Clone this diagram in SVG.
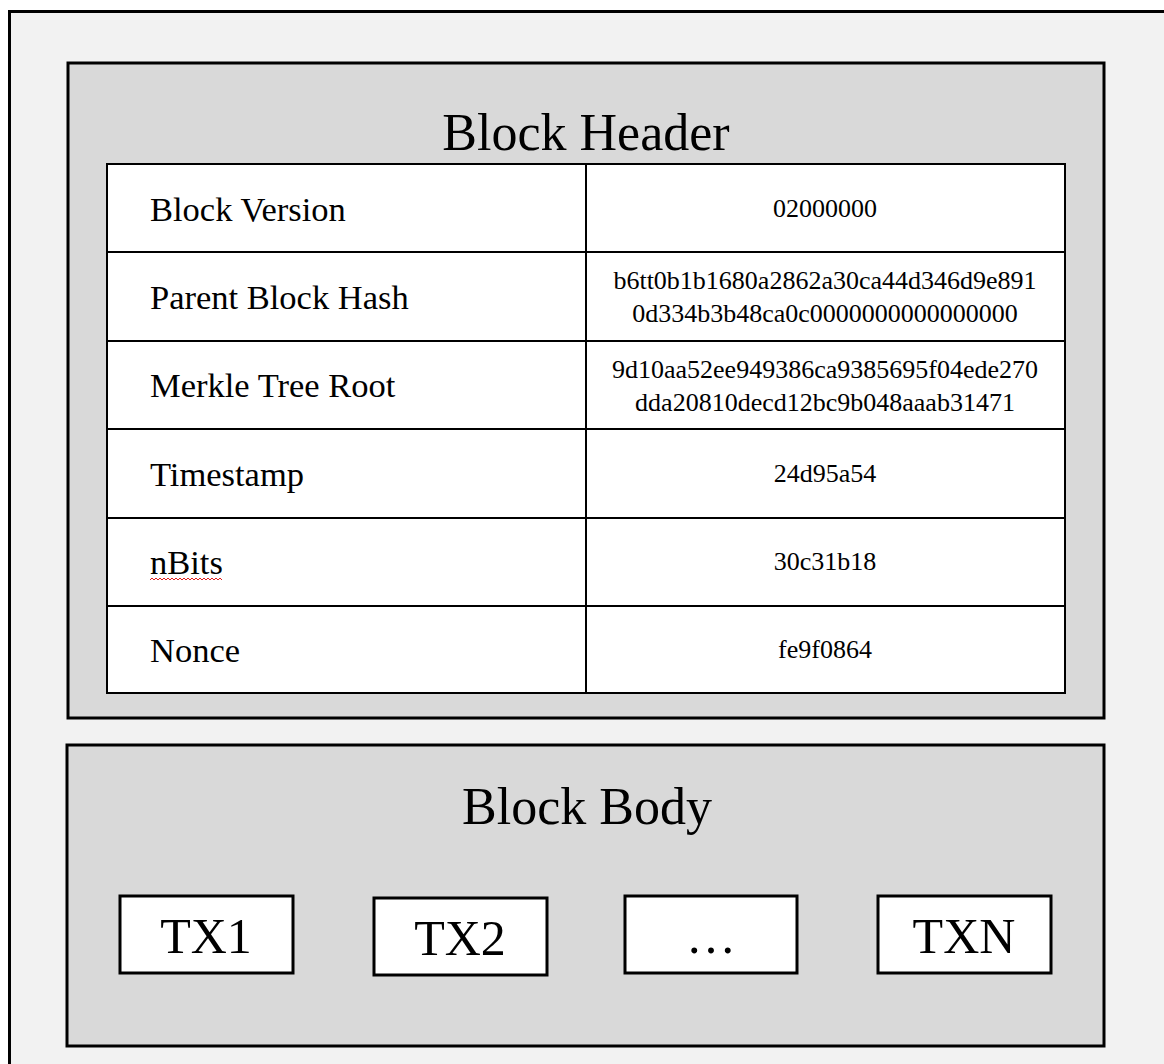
<svg xmlns="http://www.w3.org/2000/svg" width="1164" height="1064" viewBox="0 0 1164 1064">
<style>
  .frame { fill: #f2f2f2; stroke: #000; stroke-width: 3; }
  .panel { fill: #d9d9d9; stroke: #000; stroke-width: 3; }
  .cell { fill: #ffffff; stroke: #000; stroke-width: 2; }
  .grid { stroke: #000; stroke-width: 2; fill: none; }
  .tx { fill: #ffffff; stroke: #000; stroke-width: 3; }
  text { font-family: "Liberation Serif", "Times New Roman", serif; fill: #000; }
  .title { font-size: 52px; text-anchor: middle; }
  .label { font-size: 34.5px; }
  .value { font-size: 26px; text-anchor: middle; }
  .txt { font-size: 50px; text-anchor: middle; }
</style>
<rect width="1164" height="1064" fill="#ffffff"/>
<rect class="frame" x="9.5" y="11.5" width="1180" height="1080"/>

<g id="block-header">
  <rect class="panel" x="68" y="63" width="1036" height="655"/>
  <text class="title" x="586" y="150">Block Header</text>
</g>

<g id="header-table">
  <rect class="cell" x="107" y="164" width="958" height="529"/>
  <path class="grid" d="M586 164V693 M107 252H1065 M107 341H1065 M107 429H1065 M107 518H1065 M107 606H1065"/>
</g>

<g id="row-version">
  <text class="label" x="150" y="221">Block Version</text>
  <text class="value" x="825" y="217">02000000</text>
</g>
<g id="row-parent">
  <text class="label" x="150" y="309">Parent Block Hash</text>
  <text class="value" x="825" y="289">b6tt0b1b1680a2862a30ca44d346d9e891</text>
  <text class="value" x="825" y="322">0d334b3b48ca0c0000000000000000</text>
</g>
<g id="row-merkle">
  <text class="label" x="150" y="397">Merkle Tree Root</text>
  <text class="value" x="825" y="378">9d10aa52ee949386ca9385695f04ede270</text>
  <text class="value" x="825" y="411">dda20810decd12bc9b048aaab31471</text>
</g>
<g id="row-timestamp">
  <text class="label" x="150" y="486">Timestamp</text>
  <text class="value" x="825" y="482">24d95a54</text>
</g>
<g id="row-nbits">
  <text class="label" x="150" y="574">nBits</text>
  <path d="M150 580 l2 -2 l2 2 l2 -2 l2 2 l2 -2 l2 2 l2 -2 l2 2 l2 -2 l2 2 l2 -2 l2 2 l2 -2 l2 2 l2 -2 l2 2 l2 -2 l2 2 l2 -2 l2 2 l2 -2 l2 2 l2 -2 l2 2 l2 -2 l2 2 l2 -2 l2 2 l2 -2 l2 2 l2 -2 l2 2 l2 -2 l2 2 l2 -2 l2 2" fill="none" stroke="#e02020" stroke-width="1"/>
  <text class="value" x="825" y="570">30c31b18</text>
</g>
<g id="row-nonce">
  <text class="label" x="150" y="662">Nonce</text>
  <text class="value" x="825" y="658">fe9f0864</text>
</g>

<g id="block-body">
  <rect class="panel" x="67" y="745" width="1037" height="301"/>
  <text class="title" x="587" y="824">Block Body</text>
</g>

<g id="tx1">
  <rect class="tx" x="120" y="896" width="173" height="77"/>
  <text class="txt" x="206" y="953">TX1</text>
</g>
<g id="tx2">
  <rect class="tx" x="374" y="898" width="173" height="77"/>
  <text class="txt" x="460" y="955">TX2</text>
</g>
<g id="tx-ellipsis">
  <rect class="tx" x="625" y="896" width="172" height="77"/>
  <text class="txt" x="711" y="953">…</text>
</g>
<g id="txn">
  <rect class="tx" x="878" y="896" width="173" height="77"/>
  <text class="txt" x="964" y="953">TXN</text>
</g>
</svg>
